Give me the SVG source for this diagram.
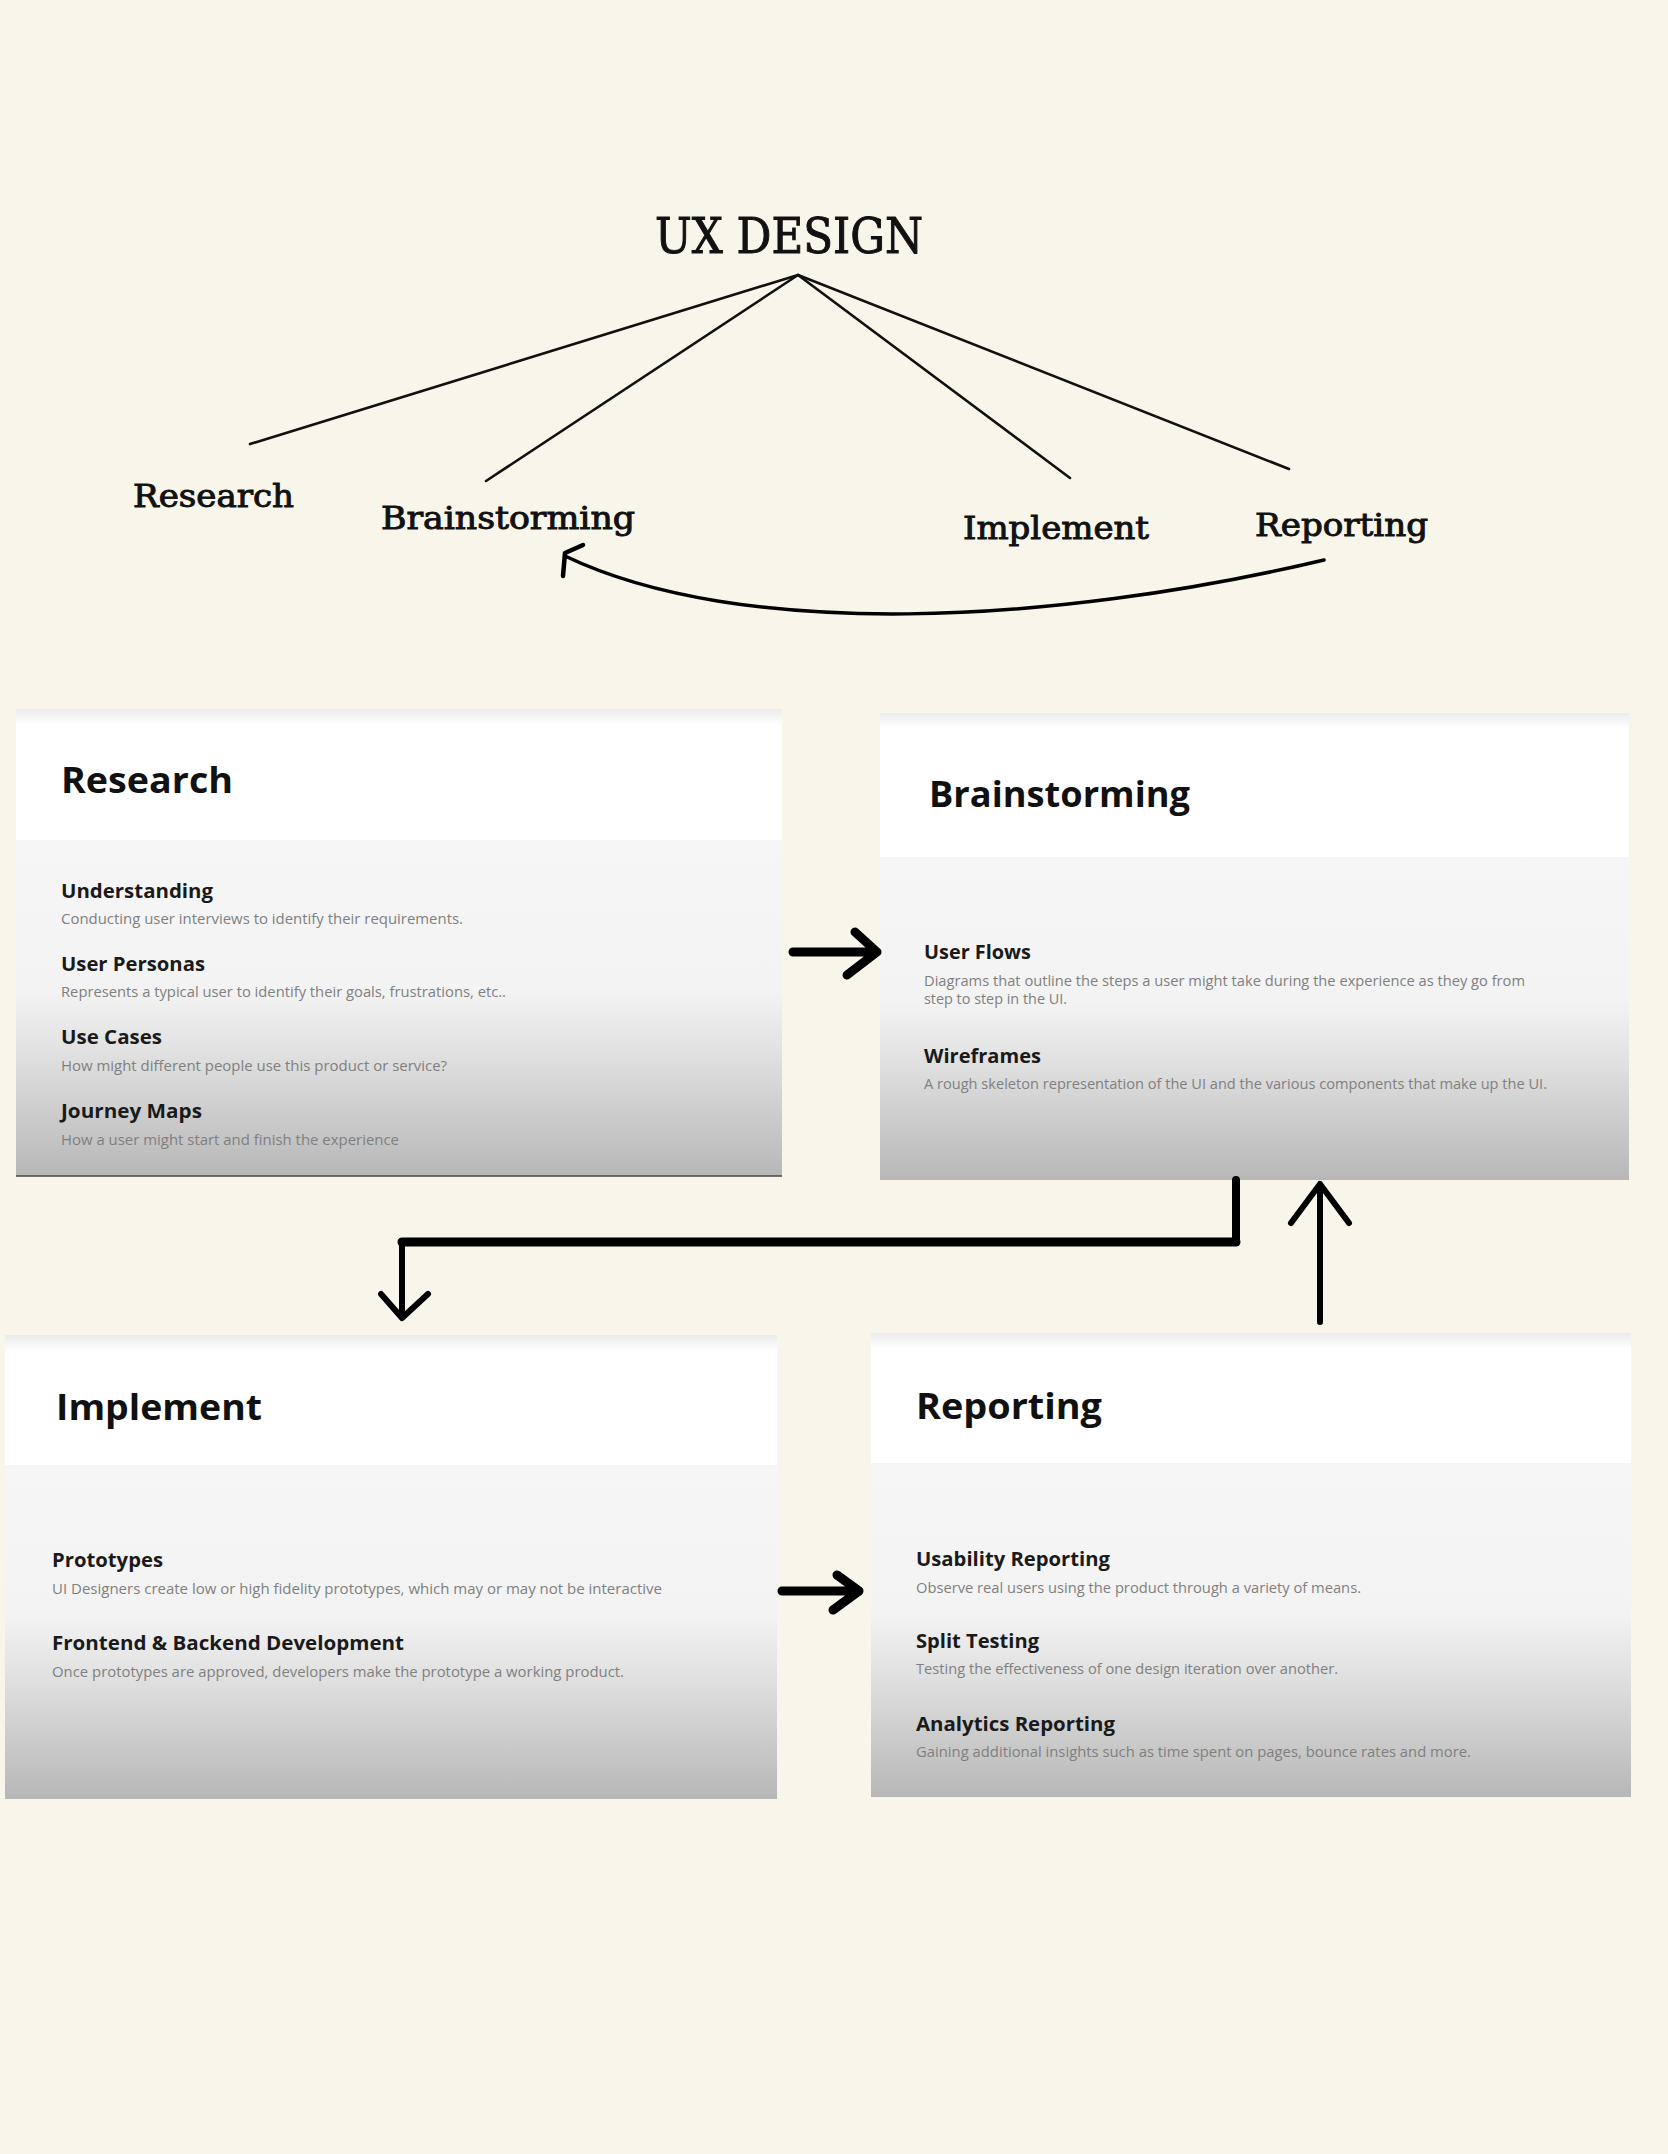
<svg xmlns="http://www.w3.org/2000/svg" width="1668" height="2154" viewBox="0 0 1668 2154">
<defs>
<style>
.serif{font-family:"DejaVu Serif","Liberation Serif",serif;font-stretch:condensed;font-weight:400;fill:#111;stroke:#111;stroke-width:0.9;paint-order:stroke}
.ttl{font-family:"Open Sans","Liberation Sans",sans-serif;font-weight:700;font-size:36px;fill:#111}
.hd{font-family:"Open Sans","Liberation Sans",sans-serif;font-weight:700;font-size:20px;fill:#1a1a1a}
.ds{font-family:"Open Sans","Liberation Sans",sans-serif;font-weight:400;font-size:14.5px;fill:#808080}
.tree{fill:none;stroke:#111;stroke-width:2.6;stroke-linecap:round}
.thick{fill:none;stroke:#000;stroke-linecap:round;stroke-linejoin:round}
</style>
<linearGradient id="body" x1="0" y1="0" x2="0" y2="1">
<stop offset="0" stop-color="#f6f6f6"/>
<stop offset="0.45" stop-color="#f3f3f3"/>
<stop offset="0.62" stop-color="#e2e2e2"/>
<stop offset="0.8" stop-color="#cecece"/>
<stop offset="1" stop-color="#b7b7b7"/>
</linearGradient>
<linearGradient id="topshade" x1="0" y1="0" x2="0" y2="1">
<stop offset="0" stop-color="#ebebeb"/>
<stop offset="1" stop-color="#ffffff"/>
</linearGradient>
</defs>
<rect width="1668" height="2154" fill="#f8f6ea"/>

<g id="title">
<text class="serif" x="655" y="253" font-size="48" stroke-width="1.3" textLength="268" lengthAdjust="spacingAndGlyphs">UX DESIGN</text>
</g>
<g id="label-research"><text class="serif" x="133" y="507" font-size="32" textLength="161" lengthAdjust="spacingAndGlyphs">Research</text></g>
<g id="label-brainstorming"><text class="serif" x="381" y="529" font-size="32" textLength="254" lengthAdjust="spacingAndGlyphs">Brainstorming</text></g>
<g id="label-implement"><text class="serif" x="963" y="539" font-size="32" textLength="186" lengthAdjust="spacingAndGlyphs">Implement</text></g>
<g id="label-reporting"><text class="serif" x="1255" y="536" font-size="32" textLength="173" lengthAdjust="spacingAndGlyphs">Reporting</text></g>

<g id="card-research">
<rect x="16" y="709" width="766" height="131" fill="#ffffff"/>
<rect x="16" y="709" width="766" height="16" fill="url(#topshade)"/>
<rect x="16" y="840" width="766" height="336" fill="url(#body)"/>
<line x1="16" y1="1176" x2="782" y2="1176" stroke="#4a4740" stroke-width="1.6"/>
<text class="ttl" x="61" y="793" textLength="172" lengthAdjust="spacingAndGlyphs">Research</text>
<text class="hd" x="61" y="898" textLength="152" lengthAdjust="spacingAndGlyphs">Understanding</text>
<text class="ds" x="61" y="924" textLength="402" lengthAdjust="spacingAndGlyphs">Conducting user interviews to identify their requirements.</text>
<text class="hd" x="61" y="971" textLength="144" lengthAdjust="spacingAndGlyphs">User Personas</text>
<text class="ds" x="61" y="997" textLength="445" lengthAdjust="spacingAndGlyphs">Represents a typical user to identify their goals, frustrations, etc..</text>
<text class="hd" x="61" y="1044" textLength="101" lengthAdjust="spacingAndGlyphs">Use Cases</text>
<text class="ds" x="61" y="1071" textLength="386" lengthAdjust="spacingAndGlyphs">How might different people use this product or service?</text>
<text class="hd" x="61" y="1118" textLength="141" lengthAdjust="spacingAndGlyphs">Journey Maps</text>
<text class="ds" x="61" y="1145" textLength="338" lengthAdjust="spacingAndGlyphs">How a user might start and finish the experience</text>
</g>

<g id="card-brainstorming">
<rect x="880" y="713" width="749" height="144" fill="#ffffff"/>
<rect x="880" y="713" width="749" height="16" fill="url(#topshade)"/>
<rect x="880" y="857" width="749" height="323" fill="url(#body)"/>
<text class="ttl" x="929" y="807" textLength="261" lengthAdjust="spacingAndGlyphs">Brainstorming</text>
<text class="hd" x="924" y="959" textLength="107" lengthAdjust="spacingAndGlyphs">User Flows</text>
<text class="ds" x="924" y="986" textLength="601" lengthAdjust="spacingAndGlyphs">Diagrams that outline the steps a user might take during the experience as they go from</text>
<text class="ds" x="924" y="1004" textLength="143" lengthAdjust="spacingAndGlyphs">step to step in the UI.</text>
<text class="hd" x="924" y="1063" textLength="117" lengthAdjust="spacingAndGlyphs">Wireframes</text>
<text class="ds" x="924" y="1089" textLength="623" lengthAdjust="spacingAndGlyphs">A rough skeleton representation of the UI and the various components that make up the UI.</text>
</g>

<g id="card-implement">
<rect x="5" y="1335" width="772" height="130" fill="#ffffff"/>
<rect x="5" y="1335" width="772" height="16" fill="url(#topshade)"/>
<rect x="5" y="1465" width="772" height="334" fill="url(#body)"/>
<text class="ttl" x="56" y="1420" textLength="206" lengthAdjust="spacingAndGlyphs">Implement</text>
<text class="hd" x="52" y="1567" textLength="111" lengthAdjust="spacingAndGlyphs">Prototypes</text>
<text class="ds" x="52" y="1594" textLength="610" lengthAdjust="spacingAndGlyphs">UI Designers create low or high fidelity prototypes, which may or may not be interactive</text>
<text class="hd" x="52" y="1650" textLength="352" lengthAdjust="spacingAndGlyphs">Frontend &amp; Backend Development</text>
<text class="ds" x="52" y="1677" textLength="572" lengthAdjust="spacingAndGlyphs">Once prototypes are approved, developers make the prototype a working product.</text>
</g>

<g id="card-reporting">
<rect x="871" y="1333" width="760" height="130" fill="#ffffff"/>
<rect x="871" y="1333" width="760" height="16" fill="url(#topshade)"/>
<rect x="871" y="1463" width="760" height="334" fill="url(#body)"/>
<text class="ttl" x="916" y="1419" textLength="186" lengthAdjust="spacingAndGlyphs">Reporting</text>
<text class="hd" x="916" y="1566" textLength="194" lengthAdjust="spacingAndGlyphs">Usability Reporting</text>
<text class="ds" x="916" y="1593" textLength="445" lengthAdjust="spacingAndGlyphs">Observe real users using the product through a variety of means.</text>
<text class="hd" x="916" y="1648" textLength="123" lengthAdjust="spacingAndGlyphs">Split Testing</text>
<text class="ds" x="916" y="1674" textLength="422" lengthAdjust="spacingAndGlyphs">Testing the effectiveness of one design iteration over another.</text>
<text class="hd" x="916" y="1731" textLength="199" lengthAdjust="spacingAndGlyphs">Analytics Reporting</text>
<text class="ds" x="916" y="1757" textLength="555" lengthAdjust="spacingAndGlyphs">Gaining additional insights such as time spent on pages, bounce rates and more.</text>
</g>

<g id="connectors">
<line class="tree" x1="798" y1="275" x2="250" y2="444"/>
<line class="tree" x1="798" y1="275" x2="486" y2="481"/>
<line class="tree" x1="798" y1="275" x2="1070" y2="478"/>
<line class="tree" x1="798" y1="275" x2="1289" y2="469"/>
<path class="thick" stroke-width="3.5" d="M1324 560 C1050 625 740 640 565 556"/>
<path class="thick" stroke-width="4.5" d="M563 576 L565 553 L583 545"/>
<path class="thick" stroke-width="9" d="M793 952 H877 M855 932 L877 952 L847 975"/>
<path class="thick" stroke-width="9" d="M782 1591 H859 M837 1575 L859 1591 L833 1610"/>
<path class="thick" stroke-width="8" d="M1236 1180 V1242 H402"/>
<path class="thick" stroke-width="9" d="M1236 1242 H402" stroke-linecap="butt"/>
<path class="thick" stroke-width="6" d="M402 1242 V1316"/>
<path class="thick" stroke-width="6" d="M381 1294 L402 1318 L428 1294"/>
<path class="thick" stroke-width="6" d="M1320 1322 V1185"/>
<path class="thick" stroke-width="6" d="M1291 1223 L1320 1184 L1349 1223"/>
</g>
</svg>
